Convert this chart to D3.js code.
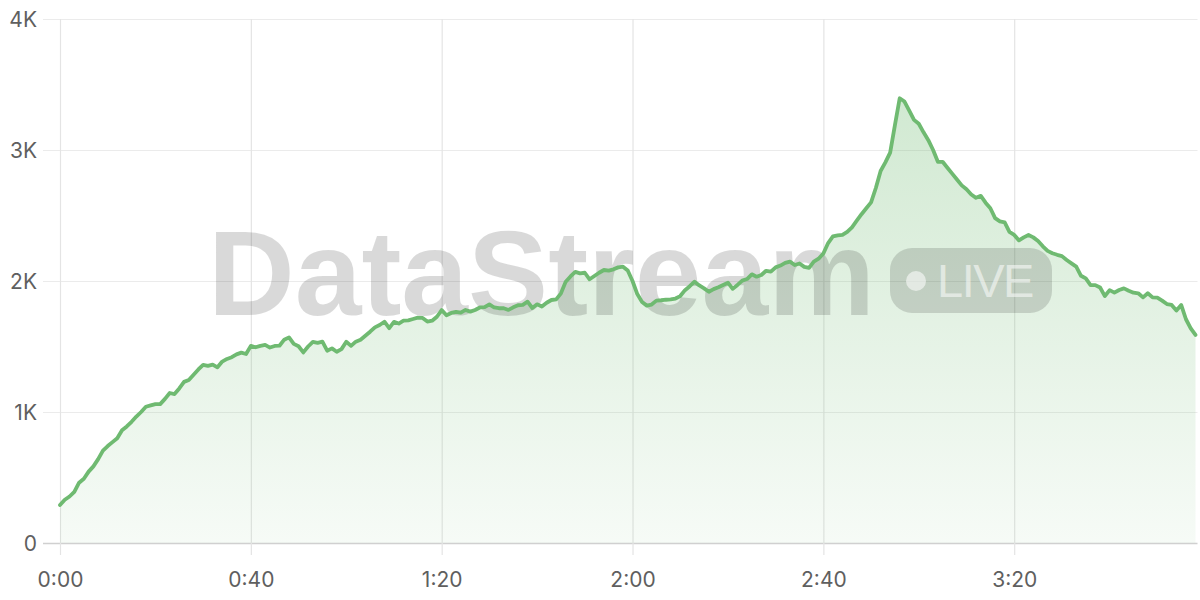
<!DOCTYPE html>
<html>
<head>
<meta charset="utf-8">
<script src="https://cdn.jsdelivr.net/npm/d3@7"></script>
<style>
  html, body { margin: 0; padding: 0; background: #ffffff; }
  svg { display: block; }
</style>
</head>
<body>
<svg id="chart" width="1200" height="600"></svg>
<script>
// ---- data ----
const seconds = d3.range(0, 239); // 0:00 .. 3:58
const viewers = [
  290, 330, 355, 390, 460, 490, 545, 585, 640, 705,
  740, 770, 800, 860, 890, 925, 965, 1000, 1040, 1050,
  1060, 1060, 1100, 1145, 1137, 1180, 1230, 1245, 1285, 1325,
  1360, 1352, 1362, 1341, 1385, 1405, 1418, 1440, 1453, 1443,
  1505, 1494, 1505, 1512, 1492, 1504, 1506, 1552, 1570, 1520,
  1502, 1455, 1500, 1536, 1528, 1537, 1468, 1486, 1460, 1480,
  1536, 1505, 1537, 1552, 1582, 1613, 1646, 1664, 1689, 1640,
  1688, 1675, 1697, 1700, 1710, 1720, 1718, 1690, 1697, 1727,
  1778, 1738, 1756, 1765, 1758, 1779, 1766, 1779, 1798, 1800,
  1822, 1798, 1792, 1792, 1779, 1799, 1815, 1818, 1842, 1794,
  1822, 1805, 1834, 1855, 1860, 1906, 1995, 2035, 2070, 2058,
  2063, 2013, 2038, 2063, 2084, 2079, 2089, 2104, 2109, 2080,
  2000, 1900, 1840, 1812, 1820, 1850, 1853, 1857, 1860, 1866,
  1885, 1930, 1960, 1995, 1966, 1944, 1918, 1938, 1952, 1970,
  1987, 1940, 1970, 2003, 2015, 2051, 2033, 2046, 2078, 2071,
  2104, 2118, 2138, 2148, 2122, 2134, 2108, 2100, 2148, 2170,
  2210, 2290, 2340, 2348, 2352, 2375, 2410, 2460, 2510, 2555,
  2600, 2710, 2840, 2905, 2980, 3190, 3395, 3370, 3300, 3230,
  3200, 3135, 3075, 3000, 2910, 2910, 2865, 2820, 2775, 2730,
  2700, 2660, 2635, 2650, 2598, 2555, 2480, 2455, 2448, 2375,
  2352, 2310, 2333, 2351, 2333, 2305, 2265, 2230, 2212, 2200,
  2190, 2160, 2135, 2110, 2040, 2020, 1969, 1969, 1950, 1885,
  1930, 1911, 1931, 1944, 1926, 1911, 1906, 1875, 1906, 1875,
  1873, 1850, 1824, 1817, 1775, 1817, 1708, 1639, 1588
];
const xTickValues = [0, 40, 80, 120, 160, 200];
const xTickLabels = ["0:00", "0:40", "1:20", "2:00", "2:40", "3:20"];
const yTickValues = [0, 1000, 2000, 3000, 4000];
const yTickLabels = ["0", "1K", "2K", "3K", "4K"];
const watermarkText = "DataStream";
const badgeText = "LIVE";

// ---- chart ----
const svg = d3.select("#chart");
const plotL = 60, plotR = 1195.5, plotT = 19, plotB = 543;
const x = d3.scaleLinear().domain([0, 238]).range([plotL, plotR]);
const y = d3.scaleLinear().domain([0, 4000]).range([plotB, plotT]);
const data = seconds.map((s, i) => ({ s, v: viewers[i] }));

const labelFont = "Inter, 'Noto Sans', sans-serif";

// gradient
const defs = svg.append("defs");
const grad = defs.append("linearGradient")
  .attr("id", "areaGrad")
  .attr("gradientUnits", "userSpaceOnUse")
  .attr("x1", 0).attr("x2", 0)
  .attr("y1", y(3400)).attr("y2", y(0));
grad.append("stop").attr("offset", "0%").attr("stop-color", "#6fba71").attr("stop-opacity", 0.32);
grad.append("stop").attr("offset", "100%").attr("stop-color", "#6fba71").attr("stop-opacity", 0.06);

// horizontal grid + y labels
const yAxis = d3.axisLeft(y)
  .tickValues(yTickValues)
  .tickSize(-(plotR - plotL) - 19)
  .tickPadding(0)
  .tickFormat((d, i) => yTickLabels[i]);
const gy = svg.append("g").attr("transform", `translate(${plotL - 17},0)`).call(yAxis);
gy.select(".domain").remove();
gy.selectAll(".tick line")
  .attr("stroke", d => d === 0 ? "#d0d0d0" : "#ebebeb")
  .attr("stroke-width", d => d === 0 ? 1.5 : 1.2);
gy.selectAll(".tick text")
  .attr("x", -6)
  .attr("dy", "0.36em")
  .attr("fill", "#5f5f5f")
  .style("font-family", labelFont)
  .style("font-size", "21px");

// vertical grid + x labels
const xAxis = d3.axisBottom(x)
  .tickValues(xTickValues)
  .tickSize(-(plotB - plotT) - 12)
  .tickPadding(0)
  .tickFormat((d, i) => xTickLabels[i]);
const gx = svg.append("g").attr("transform", `translate(0,${plotB + 12})`).call(xAxis);
gx.select(".domain").remove();
gx.selectAll(".tick line").attr("stroke", "#e4e4e4").attr("stroke-width", 1.2);
gx.selectAll(".tick text")
  .attr("y", 24)
  .attr("dy", "0.36em")
  .attr("fill", "#5f5f5f")
  .style("font-family", labelFont)
  .style("font-size", "21px");

// area
const area = d3.area().x(d => x(d.s)).y0(y(0)).y1(d => y(d.v));
svg.append("path").datum(data).attr("d", area).attr("fill", "url(#areaGrad)");

// watermark
const wm = svg.append("g");
wm.append("text")
  .attr("x", 208).attr("y", 315)
  .attr("fill", "#000").attr("fill-opacity", 0.15)
  .style("font-family", "'Liberation Sans', Arial, sans-serif")
  .style("font-weight", 700)
  .style("font-size", "120px")
  .style("letter-spacing", "0px")
  .text(watermarkText);
wm.append("rect")
  .attr("x", 890).attr("y", 248).attr("width", 162).attr("height", 65)
  .attr("rx", 22).attr("ry", 22)
  .attr("fill", "#000").attr("fill-opacity", 0.14);
wm.append("circle")
  .attr("cx", 916).attr("cy", 281).attr("r", 10)
  .attr("fill", "#fff").attr("fill-opacity", 0.55);
wm.append("text")
  .attr("x", 937).attr("y", 297)
  .attr("fill", "#fff").attr("fill-opacity", 0.55)
  .style("font-family", "'Liberation Sans', Arial, sans-serif")
  .style("font-size", "47px")
  .style("letter-spacing", "-1.5px")
  .text(badgeText);

// line
const line = d3.line().x(d => x(d.s)).y(d => y(d.v));
svg.append("path").datum(data)
  .attr("d", line)
  .attr("fill", "none")
  .attr("stroke", "#6fba71")
  .attr("stroke-width", 3.8)
  .attr("stroke-linejoin", "round")
  .attr("stroke-linecap", "round");
</script>
</body>
</html>
